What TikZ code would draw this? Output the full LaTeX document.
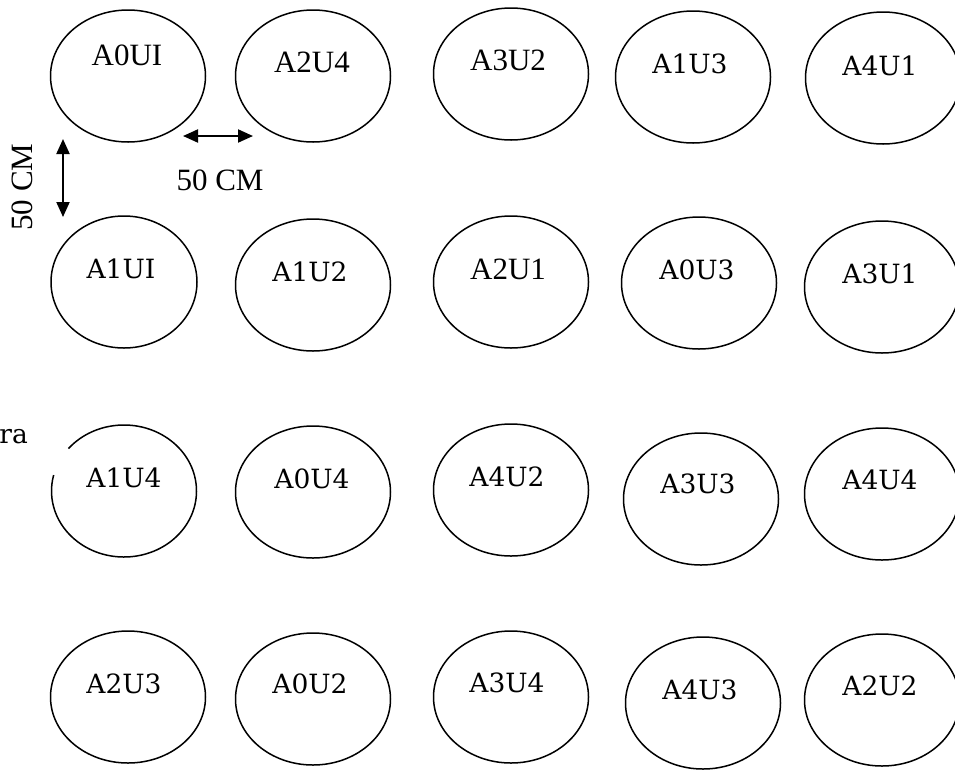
\documentclass[tikz,border=0pt]{standalone}
\usepackage{fontspec}
\setmainfont{Liberation Serif}
\newfontfamily\cambriaface{DejaVu Serif}
\usetikzlibrary{arrows.meta,shapes.geometric}

\begin{document}
\begin{tikzpicture}[x=1pt, y=-1pt,
  bed/.style={draw, ellipse, line width=1.5pt, minimum width=155pt, minimum height=132pt, inner sep=0pt},
  narrowbed/.style={bed, minimum width=146pt},
  tnr/.style={font=\fontsize{31}{31}\selectfont, inner sep=0pt},
  cam/.style={font=\cambriaface\fontsize{26.5}{26.5}\selectfont, inner sep=0pt},
  gaparrow/.style={{Triangle[length=15pt,width=13pt]}-{Triangle[length=15pt,width=13pt]}, line width=2pt}]
  \useasboundingbox (0,0) rectangle (955,769);

  % row 1
  \node[bed] (a0ui) at (128,76) {};
  \node[tnr] (a0ui-t) at (127,55) {A0UI};
  \node[bed] (a2u4) at (313,76) {};
  \node[tnr] (a2u4-t) at (312,62) {A2U4};
  \node[bed] (a3u2) at (511,74) {};
  \node[tnr] (a3u2-t) at (508,60) {A3U2};
  \node[bed] (a1u3) at (693,77) {};
  \node[cam] (a1u3-t) at (690,64) {A1U3};
  \node[bed] (a4u1) at (883,78) {};
  \node[cam] (a4u1-t) at (880,66) {A4U1};

  % row 2
  \node[narrowbed] (a1ui) at (124,282) {};
  \node[cam] (a1ui-t) at (121,269) {A1UI};
  \node[bed] (a1u2) at (313,285) {};
  \node[cam] (a1u2-t) at (310,272) {A1U2};
  \node[bed] (a2u1) at (511,282) {};
  \node[tnr] (a2u1-t) at (508,269) {A2U1};
  \node[bed] (a0u3) at (699,283) {};
  \node[cam] (a0u3-t) at (697,270) {A0U3};
  \node[bed] (a3u1) at (882,287) {};
  \node[cam] (a3u1-t) at (880,274) {A3U1};

  % row 3
  \node[narrowbed, draw=none] (a1u4) at (124,491) {};
  \draw[line width=1.5pt] (a1u4.center) ++(220:72.5 and 66) arc[start angle=220, end angle=554, x radius=72.5, y radius=66];
  \node[cam] (a1u4-t) at (124,478) {A1U4};
  \node[bed] (a0u4) at (313,492) {};
  \node[cam] (a0u4-t) at (312,479) {A0U4};
  \node[bed] (a4u2) at (511,490) {};
  \node[cam] (a4u2-t) at (507,477) {A4U2};
  \node[bed] (a3u3) at (701,499) {};
  \node[cam] (a3u3-t) at (698,484) {A3U3};
  \node[bed] (a4u4) at (882,494) {};
  \node[cam] (a4u4-t) at (880,480) {A4U4};

  % row 4
  \node[bed] (a2u3) at (128,697) {};
  \node[cam] (a2u3-t) at (124,684) {A2U3};
  \node[bed] (a0u2) at (313,699) {};
  \node[cam] (a0u2-t) at (310,684) {A0U2};
  \node[bed] (a3u4) at (511,697) {};
  \node[cam] (a3u4-t) at (507,683) {A3U4};
  \node[bed] (a4u3) at (703,703) {};
  \node[cam] (a4u3-t) at (700,690) {A4U3};
  \node[bed] (a2u2) at (882,700) {};
  \node[cam] (a2u2-t) at (880,686) {A2U2};

  % spacing marks
  \coordinate (hgap-l) at (183,136);
  \coordinate (hgap-r) at (253,136);
  \coordinate (vgap-t) at (63,139);
  \coordinate (vgap-b) at (63,217);
  \draw[gaparrow] (hgap-l) -- (hgap-r);
  \draw[gaparrow] (vgap-t) -- (vgap-b);
  \node[tnr] (hgap-label) at (220,180) {50 CM};
  \node[tnr, rotate=90] (vgap-label) at (22,187) {50 CM};

  \node[cam, anchor=east] (north-label) at (28,437) {ra};
\end{tikzpicture}
\end{document}
